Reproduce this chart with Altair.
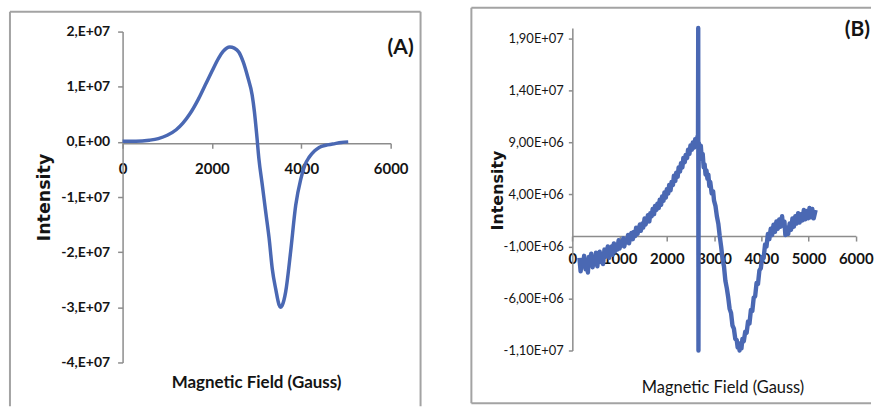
import altair as alt
import pandas as pd

# ---------------- Panel (A): simulated EPR spectrum ----------------
a_field = [0, 300, 600, 800, 1000, 1200, 1350, 1500, 1700, 1850, 2000, 2150, 2250,
           2400, 2500, 2600, 2700, 2800, 2900, 2950, 3000, 3050, 3130, 3200, 3280,
           3350, 3430, 3500, 3530, 3570, 3650, 3760, 3875, 3990, 4080, 4175, 4300,
           4400, 4550, 4700, 4900, 5050]
a_intensity_e7 = [0.01, 0.01, 0.03, 0.06, 0.12, 0.22, 0.34, 0.50, 0.78, 1.03, 1.28, 1.52, 1.64,
                  1.72, 1.70, 1.63, 1.45, 1.18, 0.85, 0.55, 0.15, -0.30, -0.80, -1.25, -1.75,
                  -2.30, -2.68, -2.95, -3.00, -2.97, -2.72, -2.00, -1.15, -0.67, -0.42, -0.28, -0.16,
                  -0.10, -0.06, -0.04, -0.01, 0.0]

a_y_ticks = [20000000, 10000000, 0, -10000000, -20000000, -30000000, -40000000]
a_y_labels = ["2,E+07", "1,E+07", "0,E+00", "-1,E+07", "-2,E+07", "-3,E+07", "-4,E+07"]
a_x_ticks = [0, 2000, 4000, 6000]

# ---------------- Panel (B): measured EPR spectrum (noisy) ----------------
b_field = [150, 175, 200, 225, 250, 280, 300, 330, 350, 380, 400, 430, 450, 480, 500, 530,
           550, 580, 600, 630, 650, 680, 700, 730, 750, 780, 800, 830, 850, 880, 900, 930,
           950, 980, 1000, 1030, 1050, 1080, 1100, 1130, 1150, 1180, 1200, 1230, 1250, 1280,
           1300, 1330, 1350, 1380, 1400, 1430, 1450, 1480, 1500, 1530, 1550, 1580, 1600, 1630,
           1650, 1680, 1700, 1730, 1750, 1780, 1800, 1830, 1850, 1880, 1900, 1930, 1950, 1980,
           2000, 2030, 2050, 2080, 2100, 2130, 2150, 2180, 2200, 2230, 2250, 2280, 2300, 2330,
           2350, 2380, 2400, 2430, 2450, 2480, 2500, 2530, 2550, 2580, 2600, 2630, 2650, 2660,
           2665, 2670, 2675, 2700, 2720, 2740, 2760, 2780, 2800, 2820, 2840, 2860, 2880, 2900,
           2920, 2950, 2980, 3000, 3030, 3060, 3090, 3120, 3150, 3180, 3210, 3240, 3270, 3300,
           3330, 3360, 3390, 3420, 3450, 3480, 3500, 3520, 3540, 3560, 3580, 3600, 3630, 3660,
           3690, 3720, 3750, 3780, 3810, 3840, 3870, 3900, 3930, 3960, 3990, 4020, 4050, 4080,
           4110, 4140, 4170, 4200, 4230, 4260, 4290, 4320, 4350, 4380, 4410, 4440, 4460, 4490,
           4510, 4540, 4570, 4600, 4630, 4660, 4690, 4720, 4750, 4780, 4810, 4840, 4870, 4900,
           4930, 4960, 4990, 5020, 5050, 5080, 5110, 5150]
b_intensity_e6 = [-2.1, -3.4, -2.5, -2.9, -1.9, -3.2, -2.6, -3.5, -2.0, -2.4, -1.7, -3.0, -2.2, -2.7, -1.6, -2.9,
                  -2.0, -1.5, -2.5, -1.8, -2.7, -1.3, -2.0, -1.6, -1.0, -2.1, -1.4, -1.0, -1.8, -0.7, -1.5, -0.9,
                  -1.3, -0.4, -1.2, -0.6, -0.9, -0.2, -1.0, -0.3, -0.6, 0.1, -0.7, 0.0, 0.3, -0.3,
                  0.4, 0.0, 0.8, 0.2, 0.6, 1.1, 0.5, 1.2, 0.8, 1.7, 1.1, 1.5, 2.0, 1.4,
                  2.2, 1.9, 2.6, 2.1, 2.9, 2.5, 3.1, 2.7, 3.5, 3.0, 3.8, 3.4, 4.2, 3.7,
                  4.5, 4.1, 4.9, 4.4, 5.2, 4.9, 5.8, 5.3, 6.1, 5.7, 6.6, 6.2, 7.0, 6.6,
                  7.5, 7.1, 7.8, 7.5, 8.3, 7.9, 8.7, 8.3, 9.0, 8.5, 9.3, 8.8, 9.6, 8.9,
                  20.0, -11.0, 9.0, 8.2, 8.7, 7.4, 7.9, 6.6, 6.9, 5.9, 6.3, 5.5, 5.9, 4.8,
                  5.2, 4.1, 4.3, 3.4, 2.9, 1.9, 1.2, 0.0, -1.0, -2.2, -2.9, -4.3, -5.0, -5.9,
                  -7.0, -7.4, -8.6, -8.9, -9.9, -10.0, -10.7, -10.4, -11.0, -10.3, -10.8, -9.9, -10.1, -9.2,
                  -9.3, -8.2, -8.4, -7.1, -7.2, -5.9, -5.8, -4.5, -4.6, -3.3, -3.1, -2.0, -2.1, -0.8,
                  -1.0, 0.2, -0.3, 0.7, 0.1, 1.1, 0.4, 1.4, 0.7, 1.6, 0.9, 1.9, 1.0, 1.4,
                  0.1, 0.8, 0.2, 1.2, 0.6, 1.7, 0.9, 1.9, 1.2, 2.2, 1.3, 2.1, 1.5, 2.5,
                  1.6, 2.4, 1.7, 2.7, 1.8, 2.6, 1.7, 2.5]

b_y_ticks = [19000000, 14000000, 9000000, 4000000, -1000000, -6000000, -11000000]
b_y_labels = ["1,90E+07", "1,40E+07", "9,00E+06", "4,00E+06", "-1,00E+06", "-6,00E+06", "-1,10E+07"]
b_x_ticks = [0, 1000, 2000, 3000, 4000, 5000, 6000]

x_title = "Magnetic Field (Gauss)"
y_title = "Intensity"

# ---------------- styling ----------------
W, H = 437, 407
BLUE = "#4a68b3"
AXIS = "#8c8c8c"
TXT = "#141414"
BORDER = "#a3a3a3"
NARROW = "Lato, Roboto, sans-serif"
WIDE = "DejaVu Sans, Verdana, sans-serif"


def label_expr(ticks, labels):
    lab = ",".join("'%s'" % s for s in labels)
    tk = ",".join(str(int(t)) for t in ticks)
    return "[%s][indexof([%s], datum.value)]" % (lab, tk)


one = pd.DataFrame({"d": [0]})


def rule(x, y, x2=None, y2=None):
    enc = {"x": alt.value(x), "y": alt.value(y)}
    if x2 is not None:
        enc["x2"] = alt.value(x2)
    if y2 is not None:
        enc["y2"] = alt.value(y2)
    return alt.Chart(one).mark_rule(color=BORDER, strokeWidth=2).encode(**enc)


# ---------- Panel A ----------
dfA = pd.DataFrame({"field": a_field, "intensity": [v * 1e7 for v in a_intensity_e7]})
a_zero_px = 143
lineA = alt.Chart(dfA).mark_line(color=BLUE, strokeWidth=3.5, interpolate="monotone").encode(
    x=alt.X("field:Q",
            scale=alt.Scale(domain=[0, 6000], range=[123, 392], nice=False, zero=False),
            axis=alt.Axis(values=a_x_ticks, format="d", orient="bottom", offset=-(H - a_zero_px),
                          grid=False, domainColor=AXIS, domainWidth=1.5, tickColor=AXIS,
                          tickSize=5, tickWidth=1.5, labelPadding=20, labelBaseline="middle",
                          labelFont=NARROW,
                          labelFontSize=15, labelFontWeight="bold", labelColor=TXT,
                          labelFlush=False, labelOverlap=False,
                          title=x_title, titleX=257, titleY=383 - a_zero_px,
                          titleAlign="center", titleBaseline="middle", titleFont=NARROW,
                          titleFontSize=17, titleFontWeight="bold", titleColor=TXT)),
    y=alt.Y("intensity:Q",
            scale=alt.Scale(domain=[-40000000, 20000000], range=[363, 31], nice=False, zero=False),
            axis=alt.Axis(values=a_y_ticks, orient="left", offset=-123, grid=False,
                          domainColor=AXIS, domainWidth=1.5, tickColor=AXIS, tickSize=5,
                          tickWidth=1.5, labelPadding=8, labelFont=NARROW, labelFontSize=14,
                          labelFontWeight="bold", labelColor=TXT, labelFlush=False,
                          labelOverlap=False, labelExpr=label_expr(a_y_ticks, a_y_labels),
                          title=y_title, titleX=45 - 123, titleY=197, titleAngle=-90,
                          titleAlign="center", titleBaseline="middle", titleFont=WIDE,
                          titleFontSize=17.5, titleFontWeight="bold", titleColor=TXT)),
)
tagA = alt.Chart(one).mark_text(text="(A)", font=NARROW, fontSize=21, fontWeight="bold",
                                color=TXT, align="center", baseline="middle").encode(
    x=alt.value(402), y=alt.value(47))
panelA = alt.layer(
    rule(10, 11, x2=422), rule(10, 11, y2=H), rule(422, 11, y2=H),
    lineA, tagA,
).properties(width=W, height=H)

# ---------- Panel B ----------
dfB = pd.DataFrame({"field": b_field, "intensity": [v * 1e6 for v in b_intensity_e6]})
b_bottom, b_top = 351, 351 - 31 / 5 * 52.2
b_zero_px = 351 - 11 / 5 * 52.2
lineB = alt.Chart(dfB).mark_line(color=BLUE, strokeWidth=4.4, strokeJoin="round").encode(
    x=alt.X("field:Q",
            scale=alt.Scale(domain=[0, 6000], range=[137.3, 421.7], nice=False, zero=False),
            axis=alt.Axis(values=b_x_ticks, format="d", orient="bottom", offset=-(H - b_zero_px),
                          grid=False, domainColor=AXIS, domainWidth=1.5, tickColor=AXIS,
                          tickSize=5, tickWidth=1.5, labelPadding=18, labelBaseline="middle",
                          labelFont=NARROW,
                          labelFontSize=15, labelFontWeight="bold", labelColor=TXT,
                          labelFlush=False, labelOverlap=False,
                          title=x_title, titleX=288, titleY=388 - b_zero_px,
                          titleAlign="center", titleBaseline="middle", titleFont=NARROW,
                          titleFontSize=16.5, titleFontWeight="normal", titleColor=TXT)),
    y=alt.Y("intensity:Q",
            scale=alt.Scale(domain=[-11000000, 20000000], range=[b_bottom, b_top], nice=False, zero=False),
            axis=alt.Axis(values=b_y_ticks, orient="left", offset=-137.3, grid=False,
                          domainColor=AXIS, domainWidth=1.5, tickColor=AXIS, tickSize=4,
                          tickWidth=1.5, labelPadding=5, labelFont=NARROW, labelFontSize=13,
                          labelFontWeight="normal", labelColor=TXT, labelFlush=False,
                          labelOverlap=False, labelExpr=label_expr(b_y_ticks, b_y_labels),
                          title=y_title, titleX=62 - 137.3, titleY=190, titleAngle=-90,
                          titleAlign="center", titleBaseline="middle", titleFont=WIDE,
                          titleFontSize=16, titleFontWeight="bold", titleColor=TXT)),
)
tagB = alt.Chart(one).mark_text(text="(B)", font=NARROW, fontSize=21, fontWeight="bold",
                                color=TXT, align="right", baseline="middle").encode(
    x=alt.value(W - 1), y=alt.value(29))
panelB = alt.layer(
    rule(36, 7, x2=W), rule(36, 7, y2=404), rule(36, 404, x2=W),
    lineB, tagB,
).properties(width=W, height=H)

chart = alt.hconcat(panelA, panelB, spacing=0).properties(padding=0).configure_view(stroke=None)
chart.save("out.html", embed_options={"renderer": "svg", "actions": False})
